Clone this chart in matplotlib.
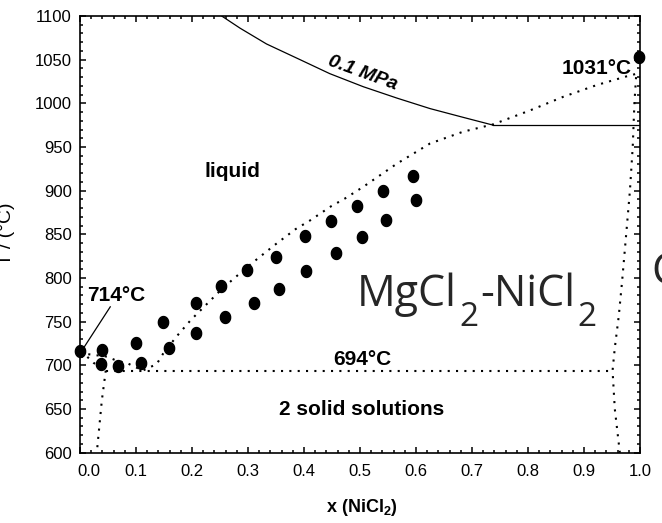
import matplotlib
matplotlib.use("Agg")
import numpy as np
import matplotlib.pyplot as plt
from matplotlib.path import Path
from matplotlib.ticker import MultipleLocator
from matplotlib.transforms import ScaledTranslation

plt.rcParams['font.family'] = ['Liberation Sans', 'DejaVu Sans']
plt.rcParams['mathtext.fontset'] = 'custom'
plt.rcParams['mathtext.rm'] = 'Liberation Sans'
plt.rcParams['mathtext.bf'] = 'Liberation Sans:bold'

# measured points (x NiCl2, T in C)
x_meas = [0.0, 0.037, 0.039, 0.068, 0.100, 0.109, 0.148, 0.159, 0.207, 0.207,
          0.252, 0.259, 0.298, 0.311, 0.350, 0.355, 0.402, 0.404, 0.448, 0.457,
          0.495, 0.504, 0.541, 0.546, 0.595, 0.600, 0.998]
t_meas = [716, 701.5, 717.5, 699, 725.5, 702.5, 749.5, 720, 771, 737,
          791, 755, 809, 771, 824, 787, 848, 808, 865, 828.5,
          882, 847, 899.5, 866, 917, 889, 1053]

# 0.1 MPa curve
x_boil = [0.253, 0.286, 0.333, 0.393, 0.446, 0.506, 0.566, 0.625, 0.684, 0.738]
t_boil = [1100, 1086, 1068, 1050, 1034, 1019, 1006, 994, 984, 975]
x_gas = [0.738, 1.0]
t_gas = [975, 975]

# calculated liquidus
x_liq = [0.0, 0.048, 0.063, 0.086, 0.112, 0.137, 0.149, 0.173, 0.198, 0.223,
         0.248, 0.273, 0.311, 0.348, 0.385, 0.411, 0.448, 0.473, 0.506, 0.566,
         0.625, 0.684, 0.738, 0.804, 0.863, 0.923, 0.982, 0.995]
t_liq = [714, 710, 706, 702, 694, 701.5, 714, 733.5, 752, 768,
         784, 798.5, 819, 838, 856, 866, 882, 891, 904.5, 931,
         954, 967.5, 976, 992, 1007.5, 1021, 1032, 1034]

# solidus / solvus
x_sol = [0.0, 0.011, 0.024, 0.046]
t_sol = [714, 711, 703, 694]
x_solv_l = [0.046, 0.039, 0.030]
t_solv_l = [694, 660, 600]
x_solv_r = [0.993, 0.990, 0.987, 0.982, 0.976, 0.968, 0.962, 0.955, 0.951, 0.955, 0.964]
t_solv_r = [1030, 1000, 950, 900, 855, 796, 756, 720, 694, 650, 600]
x_eut = [0.046, 0.951]
t_eut = [694, 694]

# slide title pieces: (text, is_subscript)
title_parts = [('MgCl', False), ('2', True), ('-NiCl', False), ('2', True)]

fig = plt.figure(figsize=(6.62, 5.23), dpi=100)
ax = fig.add_axes([80 / 662, 1 - 452.7 / 523, 560 / 662, 436.7 / 523])

dot = (0, (1, 3))
for xs, ts in [(x_liq, t_liq), (x_sol, t_sol), (x_solv_l, t_solv_l),
               (x_solv_r, t_solv_r), (x_eut, t_eut)]:
    ax.plot(xs, ts, color='black', lw=1.5, linestyle=dot)
ax.plot(x_boil, t_boil, color='black', lw=0.9)
ax.plot(x_gas, t_gas, color='black', lw=0.9)

th = np.linspace(0, 2 * np.pi, 60)
ell = Path(np.column_stack([0.86 * np.cos(th), np.sin(th)]))
ax.plot(x_meas, t_meas, linestyle='none', marker=ell, markersize=8.6,
        color='black', clip_on=False, zorder=5)

ax.plot([0.006, 0.054], [719.5, 767], color='black', lw=0.9)

bold = dict(fontsize=15, fontweight='bold')
ax.text(0.012, 774, '714°C', ha='left', va='baseline', **bold)
ax.text(0.986, 1033.6, '1031°C', ha='right', va='baseline', **bold)
ax.text(0.505, 700.4, '694°C', ha='center', va='baseline', **bold)
ax.text(0.273, 916, 'liquid', ha='center', va='baseline', **bold)
ax.text(0.503, 643, '2 solid solutions', ha='center', va='baseline', **bold)
ax.text(0.505, 1034, '0.1 MPa', ha='center', va='center', rotation=-20,
        fontsize=14, fontweight='bold', fontstyle='italic')

ax.set_xlim(0, 1)
ax.set_ylim(600, 1100)
ax.xaxis.set_major_locator(MultipleLocator(0.1))
ax.xaxis.set_minor_locator(MultipleLocator(0.02))
ax.yaxis.set_major_locator(MultipleLocator(50))
ax.yaxis.set_minor_locator(MultipleLocator(10))
ax.tick_params(which='both', direction='in', top=True, right=True, width=1.1,
               labelsize=12)
ax.tick_params(which='major', length=4.5)
ax.tick_params(which='minor', length=2.3)
ax.tick_params(axis='x', pad=8)
ax.tick_params(axis='y', pad=6)
ax.set_xticks(np.round(np.arange(0, 1.01, 0.1), 1))
ax.set_xticklabels(['%.1f' % v for v in np.arange(0, 1.01, 0.1)])
for s in ax.spines.values():
    s.set_linewidth(1.2)
lab0 = ax.xaxis.get_major_ticks()[0].label1
lab0.set_transform(lab0.get_transform() + ScaledTranslation(0.09, 0, fig.dpi_scale_trans))

fig.text(362 / 662, 1 - 507 / 523, r'x (NiCl$_\mathregular{2}$)', ha='center',
         va='center', fontsize=13, fontweight='bold')
fig.text(7 / 662, 1 - 234 / 523, 'T / (°C)', ha='center', va='center',
         rotation=90, fontsize=14)

# big slide text, built piece by piece so the subscripts match
big = dict(family=['Open Sans', 'DejaVu Sans'], color='#262626', ha='left',
           va='baseline')
renderer = fig.canvas.get_renderer()
xpos = 357
for txt, sub in title_parts:
    if sub:
        t = fig.text(xpos / 662, 1 - 326 / 523, txt, fontsize=24, **big)
    else:
        t = fig.text(xpos / 662, 1 - 306 / 523, txt, fontsize=31, **big)
    xpos = t.get_window_extent(renderer).x1 + 2
fig.text(651 / 662, 1 - 284 / 523, 'C', fontsize=31, **big)

fig.savefig('out.png', dpi=100)
